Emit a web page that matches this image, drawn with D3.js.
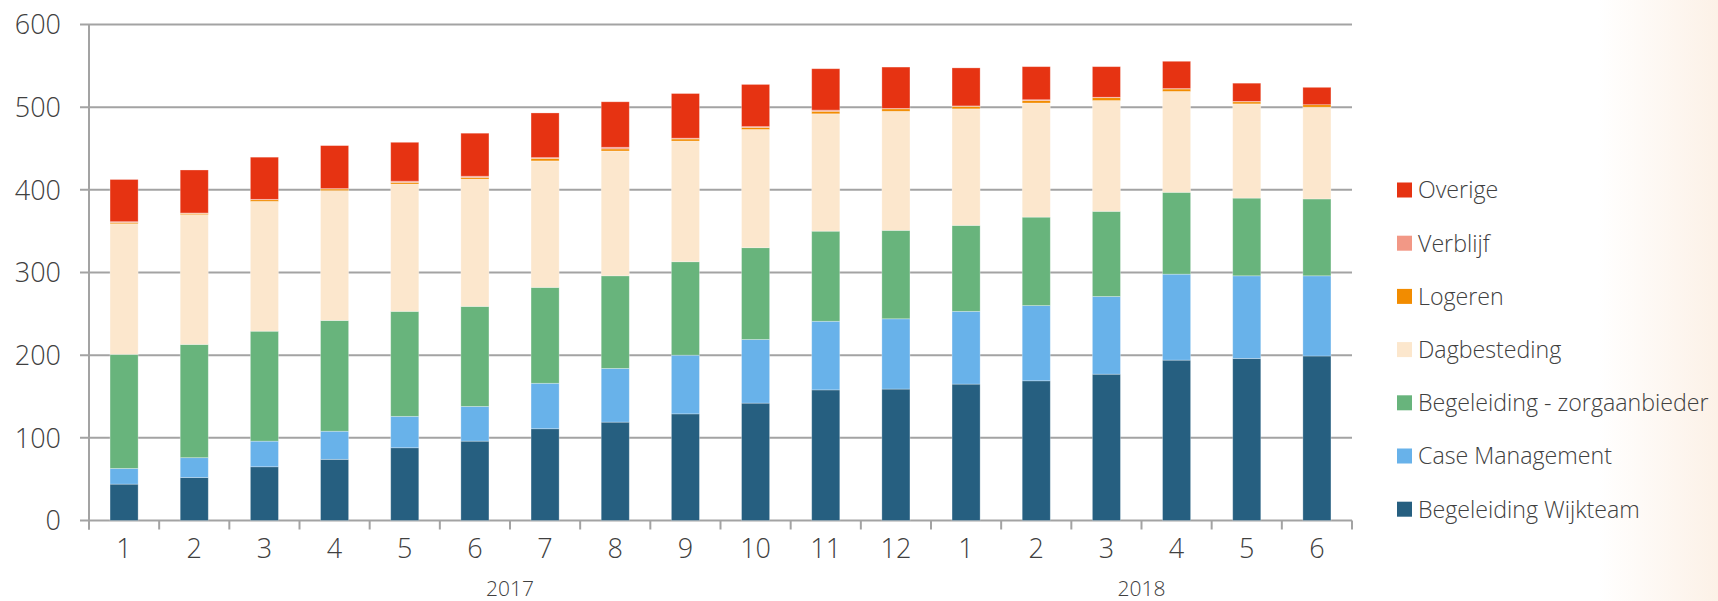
<!DOCTYPE html>
<html>
<head>
<meta charset="utf-8">
<script src="https://cdn.jsdelivr.net/npm/d3@7"></script>
<style>
  body { margin: 0; background: #fff; }
  text { font-family: "Open Sans", sans-serif; font-weight: 300; fill: #404040; }
</style>
</head>
<body>
<div id="chart"></div>
<script>
// months (x categories) and year groups
var months = ["1","2","3","4","5","6","7","8","9","10","11","12","1","2","3","4","5","6"];
var years = [{label: "2017", from: 0, to: 11}, {label: "2018", from: 12, to: 17}];

// series, bottom to top
var wijkteam   = [44, 52, 65, 74, 88, 96, 111, 119, 129, 142, 158, 159, 165, 169, 177, 194, 196, 199];
var caseMgmt   = [19, 24, 31, 34, 38, 42, 55, 65, 71, 77, 83, 85, 88, 91, 94, 104, 100, 97];
var zorgaanb   = [138, 137, 133, 134, 127, 121, 116, 112, 113, 111, 109, 107, 104, 107, 103, 99, 94, 93];
var dagbest    = [158, 157, 157, 157, 154, 154, 153, 151, 146, 143, 142, 144, 141, 138, 134, 122, 114, 111];
var logeren    = [1.5, 1.5, 2, 2, 2, 2, 3, 2.5, 2.5, 2.5, 3, 3, 3, 3, 3.5, 3, 2.5, 3];
var verblijf   = [1, 0.5, 0.5, 0.5, 1.5, 1.5, 1, 2, 1, 1, 1.5, 0.5, 0.5, 1, 0.5, 0.5, 0.5, 0];
var overige    = [51, 52, 51, 52, 47, 52, 54, 55, 54, 51, 50, 50, 46, 40, 37, 33, 22, 21];

var yTicks = [0, 100, 200, 300, 400, 500, 600];

var series = [
  {key: "Begeleiding Wijkteam", values: wijkteam, color: "#265f80"},
  {key: "Case Management", values: caseMgmt, color: "#68b2ea"},
  {key: "Begeleiding - zorgaanbieder", values: zorgaanb, color: "#68b47c"},
  {key: "Dagbesteding", values: dagbest, color: "#fce7cd"},
  {key: "Logeren", values: logeren, color: "#f28c00"},
  {key: "Verblijf", values: verblijf, color: "#f29886"},
  {key: "Overige", values: overige, color: "#e63312"}
];

var width = 1718, height = 601;
var plot = {left: 89, right: 1352, top: 24.5, bottom: 520.5};

var svg = d3.select("#chart").append("svg")
    .attr("width", width)
    .attr("height", height);

// faint peach fade on the right edge
var grad = svg.append("defs").append("linearGradient")
    .attr("id", "bg").attr("x1", 0).attr("x2", 1).attr("y1", 0).attr("y2", 0);
grad.append("stop").attr("offset", 0.93).attr("stop-color", "#ffffff");
grad.append("stop").attr("offset", 1).attr("stop-color", "#fcf1e7");
svg.append("rect").attr("width", width).attr("height", height).attr("fill", "url(#bg)");

var x = d3.scaleBand()
    .domain(d3.range(months.length))
    .range([plot.left, plot.right])
    .paddingInner(0.6)
    .paddingOuter(0.3);

var y = d3.scaleLinear()
    .domain([0, 600])
    .range([plot.bottom, plot.top]);

// gridlines + y labels
svg.append("g")
  .selectAll("line")
  .data(yTicks)
  .enter().append("line")
    .attr("x1", plot.left - 9)
    .attr("x2", plot.right)
    .attr("y1", function(d){ return y(d) })
    .attr("y2", function(d){ return y(d) })
    .attr("stroke", "#a3a3a3")
    .attr("stroke-width", 2);

svg.append("g")
  .selectAll("text")
  .data(yTicks)
  .enter().append("text")
    .attr("x", 61)
    .attr("y", function(d){ return y(d) })
    .attr("dy", "0.36em")
    .attr("text-anchor", "end")
    .style("font-size", "27px")
    .text(function(d){ return d });

// stacked bars
var table = months.map(function(m, i) {
  var row = {i: i};
  series.forEach(function(s){ row[s.key] = s.values[i] });
  return row;
});
var stack = d3.stack().keys(series.map(function(s){ return s.key }))(table);

svg.append("g")
  .selectAll("g")
  .data(stack)
  .enter().append("g")
    .attr("fill", function(d, i){ return series[i].color })
  .selectAll("rect")
  .data(function(d){ return d })
  .enter().append("rect")
    .attr("x", function(d){ return x(d.data.i) })
    .attr("width", x.bandwidth())
    .attr("y", function(d){ return y(d[1]) })
    .attr("height", function(d){ return Math.max(0, y(d[0]) - y(d[1])) })
    .attr("stroke", "rgba(255,255,255,0.35)")
    .attr("stroke-width", 0.8);

// axes lines
svg.append("line")
    .attr("x1", plot.left).attr("x2", plot.left)
    .attr("y1", plot.top).attr("y2", plot.bottom + 9)
    .attr("stroke", "#a3a3a3").attr("stroke-width", 2);

var step = x.step();
var bounds = d3.range(months.length + 1).map(function(i){ return plot.left + i * step });
svg.append("g")
  .selectAll("line")
  .data(bounds)
  .enter().append("line")
    .attr("x1", function(d){ return d })
    .attr("x2", function(d){ return d })
    .attr("y1", plot.bottom)
    .attr("y2", plot.bottom + 9)
    .attr("stroke", "#a3a3a3")
    .attr("stroke-width", 2);

// month labels
svg.append("g")
  .selectAll("text")
  .data(months)
  .enter().append("text")
    .attr("x", function(d, i){ return x(i) + x.bandwidth() / 2 })
    .attr("y", 558)
    .attr("text-anchor", "middle")
    .style("font-size", "27px")
    .text(function(d){ return d });

// year labels
svg.append("g")
  .selectAll("text")
  .data(years)
  .enter().append("text")
    .attr("x", function(d){ return (x(d.from) + x(d.to) + x.bandwidth()) / 2 })
    .attr("y", 596)
    .attr("text-anchor", "middle")
    .style("font-size", "21px")
    .text(function(d){ return d.label });

// legend, top item = top of stack
var legend = svg.append("g")
  .selectAll("g")
  .data(series.slice().reverse())
  .enter().append("g")
    .attr("transform", function(d, i){ return "translate(1397," + (190 + i * 53.2) + ")" });

legend.append("rect")
    .attr("x", 0).attr("y", -7.5)
    .attr("width", 15).attr("height", 15)
    .attr("fill", function(d){ return d.color });

legend.append("text")
    .attr("x", 21)
    .attr("dy", "0.36em")
    .style("font-size", "23.2px")
    .text(function(d){ return d.key });
</script>
</body>
</html>
